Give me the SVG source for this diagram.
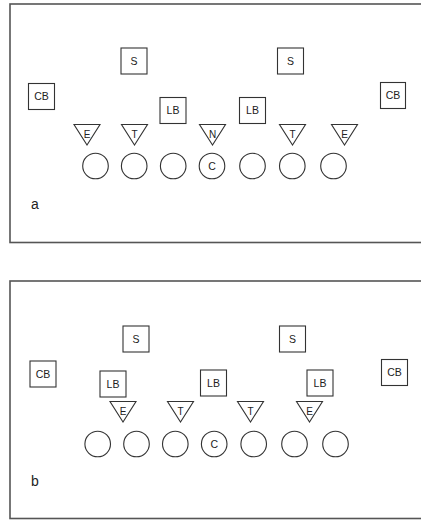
<svg xmlns="http://www.w3.org/2000/svg" width="421" height="520" viewBox="0 0 421 520">
<style>
.frame{fill:none;stroke:#555;stroke-width:1.6}
.box{fill:#fff;stroke:#333;stroke-width:1.1}
.tri{fill:#fff;stroke:#333;stroke-width:1.1}
.cir{fill:#fff;stroke:#333;stroke-width:1.1}
.t{font-family:"Liberation Sans",Arial,sans-serif;font-size:10.5px;fill:#222;text-anchor:middle}
.ts{font-family:"Liberation Sans",Arial,sans-serif;font-size:10px;fill:#222;text-anchor:middle}
.lab{font-family:"Liberation Sans",Arial,sans-serif;font-size:14px;fill:#222}
</style>
<rect width="421" height="520" fill="#fff"/>
<g id="panel-a">
<rect class="frame" x="10" y="4" width="420" height="238.5"/>
<g id="a-S1"><rect class="box" x="121" y="48" width="26" height="26"/><text class="t" x="134" y="64.8">S</text></g>
<g id="a-S2"><rect class="box" x="277.5" y="48" width="26" height="26"/><text class="t" x="290.5" y="64.8">S</text></g>
<g id="a-CB1"><rect class="box" x="28.5" y="83.5" width="26" height="26"/><text class="t" x="41.5" y="100.3">CB</text></g>
<g id="a-CB2"><rect class="box" x="380.5" y="82.5" width="25" height="26"/><text class="t" x="393" y="99.3">CB</text></g>
<g id="a-LB1"><rect class="box" x="160" y="97.5" width="26" height="26"/><text class="t" x="173" y="114.3">LB</text></g>
<g id="a-LB2"><rect class="box" x="239.5" y="97.5" width="26" height="26"/><text class="t" x="252.5" y="114.3">LB</text></g>
<g id="a-E1"><polygon class="tri" points="74,124.5 100,124.5 87,145"/><text class="ts" x="87" y="138">E</text></g>
<g id="a-T1"><polygon class="tri" points="121.5,124.5 147.5,124.5 134.5,145"/><text class="ts" x="134.5" y="138">T</text></g>
<g id="a-N"><polygon class="tri" points="199.5,124.5 225.5,124.5 212.5,145"/><text class="ts" x="212.5" y="138">N</text></g>
<g id="a-T2"><polygon class="tri" points="279.5,124.5 305.5,124.5 292.5,145"/><text class="ts" x="292.5" y="138">T</text></g>
<g id="a-E2"><polygon class="tri" points="331.5,124.5 357.5,124.5 344.5,145"/><text class="ts" x="344.5" y="138">E</text></g>
<g id="a-O1"><circle class="cir" cx="95.5" cy="166" r="12.8"/></g>
<g id="a-O2"><circle class="cir" cx="134.2" cy="166" r="12.8"/></g>
<g id="a-O3"><circle class="cir" cx="173.2" cy="166" r="12.8"/></g>
<g id="a-C"><circle class="cir" cx="212" cy="166" r="12.8"/><text class="t" x="212" y="169.8">C</text></g>
<g id="a-O5"><circle class="cir" cx="252.5" cy="166" r="12.8"/></g>
<g id="a-O6"><circle class="cir" cx="292.3" cy="166" r="12.8"/></g>
<g id="a-O7"><circle class="cir" cx="333.5" cy="166" r="12.8"/></g>
<text class="lab" x="31" y="209">a</text>
</g>
<g id="panel-b">
<rect class="frame" x="10" y="281" width="420" height="237.5"/>
<g id="b-S1"><rect class="box" x="123" y="326" width="26" height="26"/><text class="t" x="136" y="342.8">S</text></g>
<g id="b-S2"><rect class="box" x="279.5" y="326" width="26" height="26"/><text class="t" x="292.5" y="342.8">S</text></g>
<g id="b-CB1"><rect class="box" x="30" y="361" width="26" height="26"/><text class="t" x="43" y="377.8">CB</text></g>
<g id="b-CB2"><rect class="box" x="381.5" y="359.5" width="26" height="26"/><text class="t" x="394.5" y="376.3">CB</text></g>
<g id="b-LB1"><rect class="box" x="100" y="371" width="26" height="26"/><text class="t" x="113" y="387.8">LB</text></g>
<g id="b-LB2"><rect class="box" x="200.5" y="370" width="26" height="26"/><text class="t" x="213.5" y="386.8">LB</text></g>
<g id="b-LB3"><rect class="box" x="307" y="370" width="26" height="26"/><text class="t" x="320" y="386.8">LB</text></g>
<g id="b-E1"><polygon class="tri" points="110,401.5 136,401.5 123,422"/><text class="ts" x="123" y="415">E</text></g>
<g id="b-T1"><polygon class="tri" points="167.5,401.5 193.5,401.5 180.5,422"/><text class="ts" x="180.5" y="415">T</text></g>
<g id="b-T2"><polygon class="tri" points="237.5,401.5 263.5,401.5 250.5,422"/><text class="ts" x="250.5" y="415">T</text></g>
<g id="b-E2"><polygon class="tri" points="296.5,401.5 322.5,401.5 309.5,422"/><text class="ts" x="309.5" y="415">E</text></g>
<g id="b-O1"><circle class="cir" cx="97.7" cy="444" r="12.8"/></g>
<g id="b-O2"><circle class="cir" cx="136.5" cy="444" r="12.8"/></g>
<g id="b-O3"><circle class="cir" cx="175.3" cy="444" r="12.8"/></g>
<g id="b-C"><circle class="cir" cx="214.2" cy="444" r="12.8"/><text class="t" x="214.2" y="447.8">C</text></g>
<g id="b-O5"><circle class="cir" cx="253.7" cy="444" r="12.8"/></g>
<g id="b-O6"><circle class="cir" cx="294.5" cy="444" r="12.8"/></g>
<g id="b-O7"><circle class="cir" cx="335.5" cy="444" r="12.8"/></g>
<text class="lab" x="31" y="486">b</text>
</g>
<g id="connectors"></g>
</svg>
